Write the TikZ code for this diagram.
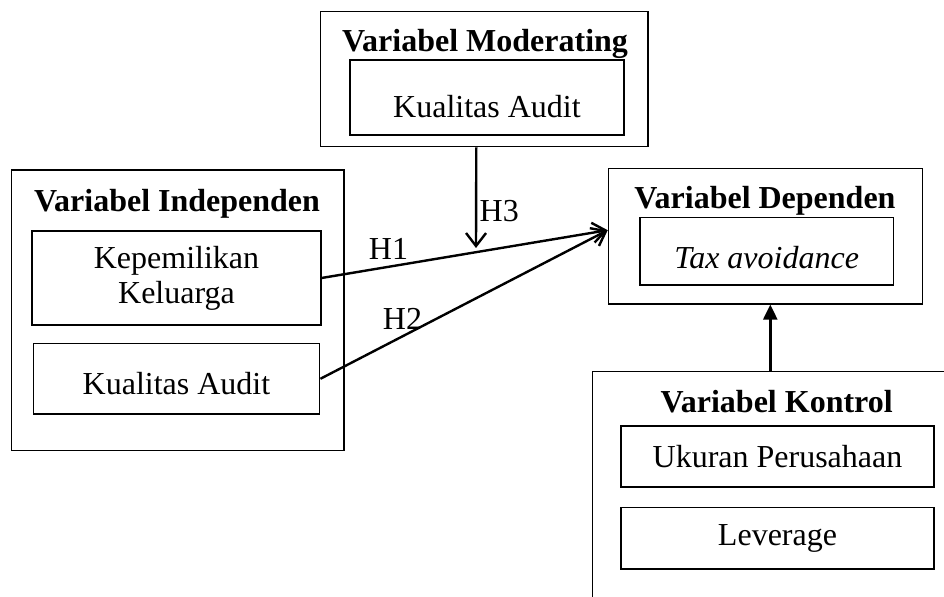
\documentclass[tikz,border=0pt]{standalone}
\usepackage{fontspec}
\setmainfont{Liberation Serif}
\usetikzlibrary{shapes,arrows,arrows.meta,positioning}

\begin{document}
\begin{tikzpicture}[
      x=0.5pt, y=-0.5pt,
      font=\fontsize{16}{17.5}\selectfont
    ]

    \tikzstyle{luar} = [
        rectangle,
        draw,
        line width=0.6pt,
        inner sep=0pt
    ]

    \tikzstyle{dalam} = [
        rectangle,
        draw,
        line width=0.9pt,
        text centered,
        align=center,
        inner sep=0pt
    ]

    \tikzstyle{judul} = [
        anchor=base,
        inner sep=0pt,
        font=\fontsize{16}{17.5}\selectfont\bfseries
    ]

    \tikzstyle{panah} = [
        draw,
        line width=1.2pt,
        -{Straight Barb[length=6.5pt,width=10pt]}
    ]

    \useasboundingbox (0,0) rectangle (944,597);
    \clip (0,0) rectangle (944,597);

    % moderating
    \node [luar, minimum width=163.7pt, minimum height=67.5pt]  (moderasi) at (484.3,79.2) {};
    \node [judul]                                    (judulmod) at (485,52) {Variabel Moderating};
    \node [dalam, minimum width=137pt, minimum height=37.5pt,
           text height=20pt, text depth=0pt]          (kualitasmod) at (487,97.5) {Kualitas Audit};

    % independen
    \node [luar, minimum width=166.2pt, minimum height=140.3pt] (independen) at (177.8,310.3) {};
    \node [judul]                                    (judulind) at (177,211.7) {Variabel Independen};
    \node [dalam, minimum width=144.2pt, minimum height=46.7pt] (keluarga) at (176.5,278) {Kepemilikan\\Keluarga};
    \node [dalam, minimum width=143pt, minimum height=35.3pt, below=8.5pt of keluarga,
           text height=16pt, text depth=0pt]          (kualitas) {Kualitas Audit};

    % dependen
    \node [luar, minimum width=157pt, minimum height=67.8pt]   (dependen) at (765.3,236.2) {};
    \node [judul]                                    (juduldep) at (765,208.3) {Variabel Dependen};
    \node [dalam, minimum width=126.7pt, minimum height=33.7pt,
           text height=17pt, text depth=0pt,
           font=\fontsize{16}{17.5}\selectfont\itshape]   (tax) at (766.7,251.3) {Tax avoidance};

    % kontrol
    \node [luar, minimum width=183.7pt, minimum height=119.3pt] (kontrol) at (776.3,490.8) {};
    \node [judul]                                    (judulkon) at (776.7,412.7) {Variabel Kontrol};
    \node [dalam, minimum width=156.8pt, minimum height=30.8pt] (ukuran) at (777.5,456.5) {Ukuran Perusahaan};
    \node [dalam, minimum width=156.8pt, minimum height=30.8pt, below=9.2pt of ukuran] (leverage) {Leverage};

    \coordinate (masuk) at ([yshift=3pt]dependen.west);
    \coordinate (ujungh3) at (476,248);

    \path [panah] (keluarga.east) -- (masuk);
    \path [panah] (kualitas.east) -- (masuk);
    \path [panah] ([xshift=-4pt]moderasi.south) -- (ujungh3);
    \path [draw, line width=1.2pt, -{Triangle[length=7.5pt,width=7pt]}] ([xshift=2.5pt]dependen.south |- kontrol.north) -- ([xshift=2.5pt]dependen.south);

    \node (h1) at (388.5,249) {H1};
    \node (h2) at (402.5,319) {H2};
    \node (h3) at (499.3,210.7) {H3};

    \end{tikzpicture}
\end{document}
